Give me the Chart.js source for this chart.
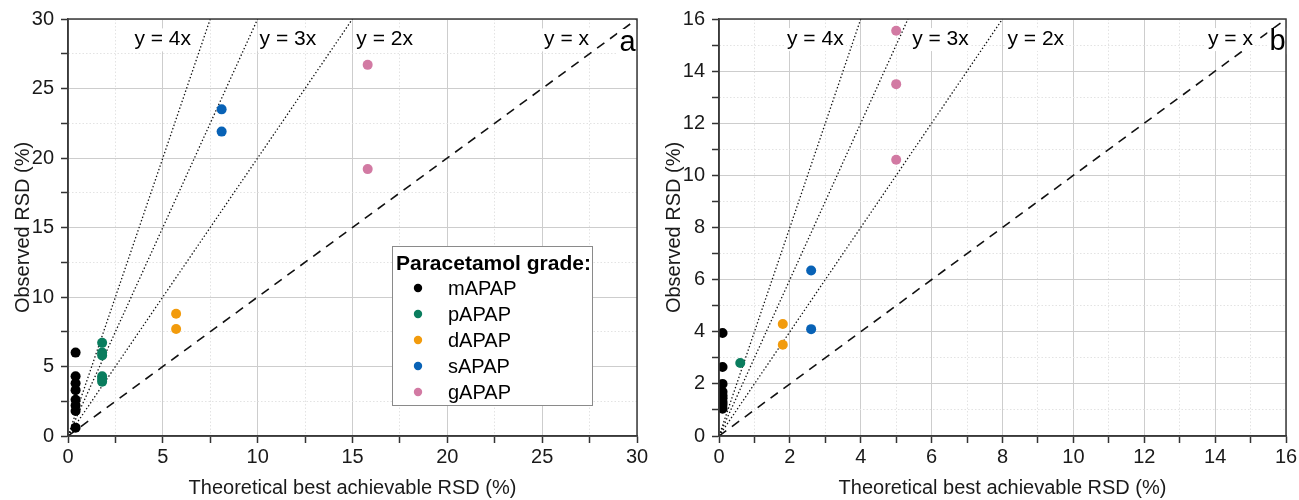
<!DOCTYPE html>
<html>
<head>
<meta charset="utf-8">
<script src="https://cdn.jsdelivr.net/npm/chart.js@4.4.0/dist/chart.umd.min.js"></script>
<style>
  html, body { margin: 0; padding: 0; background: #fff; }
  #wrap { position: relative; width: 1299px; height: 500px; }
  canvas { position: absolute; top: 0; }
  #chartA { left: 0; }
  #chartB { left: 651px; }
</style>
</head>
<body>
<div id="wrap">
  <canvas id="chartA" width="651" height="500"></canvas>
  <canvas id="chartB" width="648" height="500"></canvas>
</div>
<script>
const grades = ['mAPAP', 'pAPAP', 'dAPAP', 'sAPAP', 'gAPAP'];
const gradeColours = ['#000000', '#0a7d5e', '#f29b0c', '#0862b6', '#d27aa3'];

// panel a: theoretical RSD per grade and the observed RSDs
const theoA = [0.4, 1.8, 5.7, 8.1, 15.8];
const obsA = [
  [6.0, 4.3, 3.8, 3.3, 2.6, 2.2, 1.8, 0.6],
  [6.7, 6.0, 5.8, 4.3, 4.1, 3.9],
  [8.8, 7.7],
  [23.5, 21.9],
  [26.7, 19.2]
];

// panel b
const theoB = [0.1, 0.6, 1.8, 2.6, 5.0];
const obsB = [
  [3.95, 2.65, 2.0, 1.7, 1.55, 1.45, 1.3, 1.2, 1.05],
  [2.8],
  [4.3, 3.5],
  [6.35, 4.1],
  [15.55, 13.5, 10.6]
];

// reference lines y = x, 2x, 3x, 4x (start at origin, end at the top/right edge)
const refNames = ['y = x', 'y = 2x', 'y = 3x', 'y = 4x'];
const refEndA = [[30, 30], [15, 30], [10, 30], [7.5, 30]];
const refEndB = [[16, 16], [8, 16], [5.333, 16], [4, 16]];

// where the line names sit (data units, left edge / baseline)
const refLabelX_A = [25.1, 15.2, 10.1, 3.5];
const refLabelX_B = [13.8, 8.14, 5.45, 1.92];

const FONT = '"Liberation Sans", Arial, sans-serif';
const INK = '#1a1a1a';

function buildDatasets(theo, obs, refEnds) {
  const sets = grades.map((g, i) => ({
    label: g,
    data: obs[i].map(v => ({ x: theo[i], y: v })),
    backgroundColor: gradeColours[i],
    borderColor: gradeColours[i],
    pointRadius: 5,
    pointBorderWidth: 0,
    showLine: false
  }));
  refEnds.forEach((e, k) => sets.push({
    label: refNames[k],
    data: [{ x: 0, y: 0 }, { x: e[0], y: e[1] }],
    showLine: true,
    pointRadius: 0,
    borderColor: '#111',
    borderWidth: k === 0 ? 1.6 : 1.3,
    borderDash: k === 0 ? [9, 7] : [1.4, 2.2],
    fill: false
  }));
  return sets;
}

const framePlugin = {
  id: 'frame',
  afterDraw(chart) {
    const { ctx, chartArea: a } = chart;
    ctx.save();
    ctx.strokeStyle = '#3a3a3a';
    ctx.lineWidth = 1.5;
    ctx.strokeRect(a.left, a.top, a.right - a.left, a.bottom - a.top);
    ctx.restore();
  }
};

const refTextPlugin = {
  id: 'refText',
  afterDatasetsDraw(chart, args, opts) {
    const { ctx, scales: { x, y } } = chart;
    ctx.save();
    ctx.textBaseline = 'alphabetic';
    ctx.font = '21px ' + FONT;
    refNames.forEach((t, k) => {
      const px = x.getPixelForValue(opts.xs[k]);
      const py = y.getPixelForValue(opts.y);
      const w = ctx.measureText(t).width;
      ctx.fillStyle = '#fff';
      ctx.fillRect(px - 2, py - 17, w + 4, 23);
      ctx.fillStyle = '#000';
      ctx.textAlign = 'left';
      ctx.fillText(t, px, py);
    });
    ctx.font = '29px ' + FONT;
    const lx = x.getPixelForValue(opts.letterX);
    const ly = y.getPixelForValue(opts.letterY);
    const lw = ctx.measureText(opts.letter).width;
    ctx.fillStyle = '#fff';
    ctx.fillRect(lx - lw / 2 - 2, ly - 22, lw + 4, 26);
    ctx.fillStyle = '#000';
    ctx.textAlign = 'center';
    ctx.fillText(opts.letter, lx, ly);
    ctx.restore();
  }
};

// boxed legend inside panel a
const gradeLegendPlugin = {
  id: 'gradeLegend',
  afterDraw(chart, args, opts) {
    if (!opts.show) return;
    const { ctx, chartArea: a } = chart;
    const bx = a.left + 324, by = a.top + 227, bw = 200, bh = 159;
    ctx.save();
    ctx.fillStyle = '#fff';
    ctx.fillRect(bx, by, bw, bh);
    ctx.strokeStyle = '#8a8a8a';
    ctx.lineWidth = 1;
    ctx.strokeRect(bx + 0.5, by + 0.5, bw, bh);
    ctx.fillStyle = '#000';
    ctx.textBaseline = 'middle';
    ctx.textAlign = 'left';
    ctx.font = 'bold 21px ' + FONT;
    ctx.fillText('Paracetamol grade:', bx + 4, by + 18);
    ctx.font = '20px ' + FONT;
    grades.forEach((g, i) => {
      const cy = by + 42 + i * 26;
      ctx.fillStyle = gradeColours[i];
      ctx.beginPath();
      ctx.arc(bx + 26, cy, 4.2, 0, Math.PI * 2);
      ctx.fill();
      ctx.fillStyle = '#000';
      ctx.fillText(g, bx + 56, cy + 1);
    });
    ctx.restore();
  }
};

function axis(max, step, major, title, isY) {
  const isMajor = v => Math.abs(v / major - Math.round(v / major)) < 1e-6;
  return {
    type: 'linear',
    min: 0,
    max: max,
    afterFit: s => {
      if (isY) { s.width = 68; s.paddingTop = 0; s.paddingBottom = 0; }
      else { s.height = 64; s.paddingLeft = 0; s.paddingRight = 0; }
    },
    ticks: {
      stepSize: step,
      autoSkip: false,
      maxRotation: 0,
      padding: isY ? 7 : 2,
      color: INK,
      font: { family: FONT, size: 20 },
      callback: v => (isMajor(v) ? v : '')
    },
    grid: {
      color: c => (c.tick && isMajor(c.tick.value)) ? '#cdcdcd' : '#e3e3e3',
      lineWidth: 1,
      tickLength: 7,
      tickColor: '#333',
      tickWidth: 1.5
    },
    border: {
      display: true,
      color: '#3a3a3a',
      width: 1.5,
      dash: c => (c.tick && isMajor(c.tick.value)) ? [] : [1.5, 2]
    },
    title: {
      display: true,
      text: title,
      color: INK,
      font: { family: FONT, size: 20 },
      padding: isY ? { top: 11, bottom: 0 } : { top: 0, bottom: 0 }
    }
  };
}

function makeChart(id, theo, obs, refEnds, max, step, major, rightPad, textOpts, showLegend) {
  return new Chart(document.getElementById(id), {
    type: 'scatter',
    data: { datasets: buildDatasets(theo, obs, refEnds) },
    options: {
      responsive: false,
      devicePixelRatio: 1,
      animation: false,
      layout: { padding: { top: 19, right: rightPad, left: 0, bottom: 0 } },
      scales: {
        x: axis(max, step, major, 'Theoretical best achievable RSD (%)', false),
        y: axis(max, step, major, 'Observed RSD (%)', true)
      },
      plugins: {
        legend: { display: false },
        tooltip: { enabled: false },
        refText: textOpts,
        gradeLegend: { show: showLegend }
      }
    },
    plugins: [refTextPlugin, framePlugin, gradeLegendPlugin]
  });
}

makeChart('chartA', theoA, obsA, refEndA, 30, 2.5, 5, 14,
  { xs: refLabelX_A, y: 28.1, letter: 'a', letterX: 29.5, letterY: 27.7 }, true);
makeChart('chartB', theoB, obsB, refEndB, 16, 1, 2, 13,
  { xs: refLabelX_B, y: 15.0, letter: 'b', letterX: 15.76, letterY: 14.8 }, false);
</script>
</body>
</html>
